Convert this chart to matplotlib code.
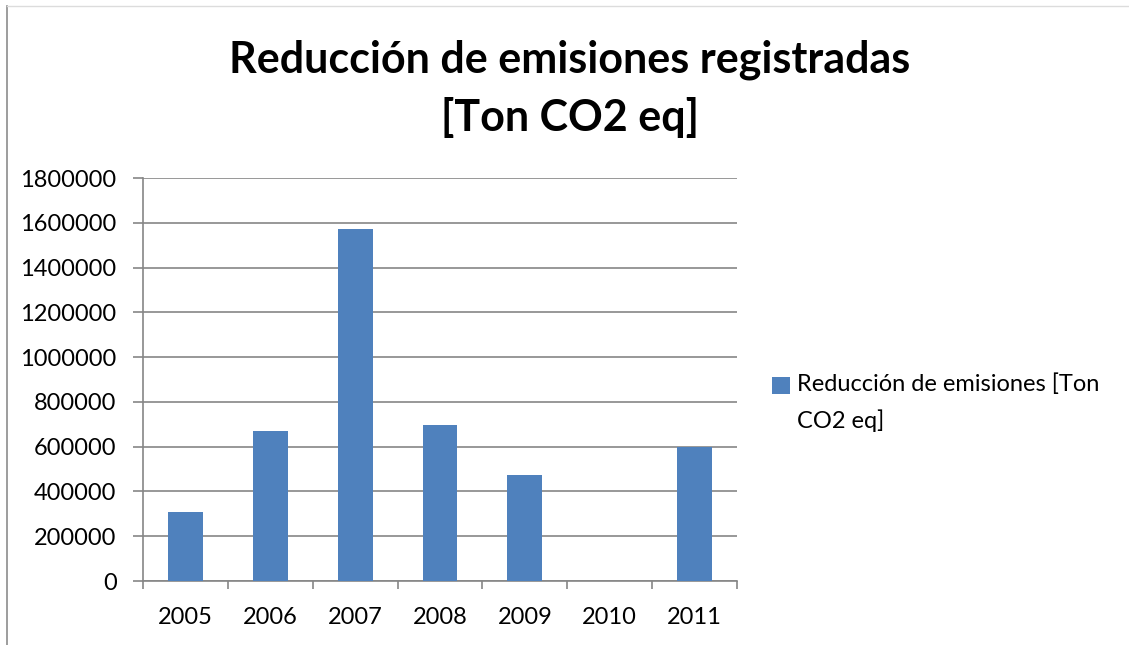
import matplotlib.pyplot as plt
import numpy as np
from matplotlib.lines import Line2D

years = ['2005', '2006', '2007', '2008', '2009', '2010', '2011']
reduccion = [307000, 671000, 1571000, 698000, 475000, 0, 600000]
yticks = [0, 200000, 400000, 600000, 800000, 1000000, 1200000, 1400000, 1600000, 1800000]

plt.rcParams['font.family'] = ['Lato', 'DejaVu Sans']

fig = plt.figure(figsize=(11.29, 6.45), dpi=100)
W, H = 1129, 645
ax = fig.add_axes([143 / W, 1 - 581 / H, (737 - 143) / W, (581 - 178) / H])

x = np.arange(len(years))
ax.bar(x, reduccion, width=0.41, color='#4F81BD', zorder=3,
       label='Reducción de emisiones [Ton\nCO2 eq]')

ax.set_xlim(-0.5, len(years) - 0.5)
ax.set_ylim(0, 1800000)
ax.set_yticks(yticks)
ax.set_yticklabels([str(v) for v in yticks], fontsize=17)
ax.yaxis.grid(True, color='#868686', linewidth=1.2, zorder=0)
ax.set_xticks(x)
ax.set_xticklabels(years, fontsize=17)
ax.set_xticks(np.arange(len(years) + 1) - 0.5, minor=True)
ax.tick_params(axis='x', which='major', length=0, pad=19)
ax.tick_params(axis='x', which='minor', length=6, color='#868686', width=1.2)
ax.tick_params(axis='y', length=7, color='#868686', width=1.2, pad=12)
for s in ['top', 'right']:
    ax.spines[s].set_visible(False)
ax.spines['left'].set_color('#868686')
ax.spines['bottom'].set_color('#868686')
ax.spines['left'].set_linewidth(1.2)
ax.spines['bottom'].set_linewidth(1.2)

fig.text(570 / W, 1 - 60 / H, 'Reducción de emisiones registradas', ha='center', va='center',
         fontsize=31, fontweight='bold')
fig.text(570 / W, 1 - 118 / H, '[Ton CO2 eq]', ha='center', va='center',
         fontsize=31, fontweight='bold')

leg = ax.legend(loc='upper left', bbox_to_anchor=(772 / W, 1 - 373 / H), bbox_transform=fig.transFigure,
                frameon=False, fontsize=17, handlelength=0.75, handleheight=0.75, handletextpad=0.3,
                borderaxespad=0, borderpad=0, labelspacing=0)
leg.get_texts()[0].set_linespacing(1.8)
# put the square next to the first line, like the original
h = leg.legend_handles[0]
h.set_y(h.get_y() + 12.5)

fig.add_artist(Line2D([7 / W, 7 / W], [0, 1 - 6 / H], color='#8c8c8c', linewidth=1.2))
fig.add_artist(Line2D([7 / W, 1], [1 - 6 / H, 1 - 6 / H], color='#dcdcdc', linewidth=1))

fig.savefig('out.png', dpi=100)
